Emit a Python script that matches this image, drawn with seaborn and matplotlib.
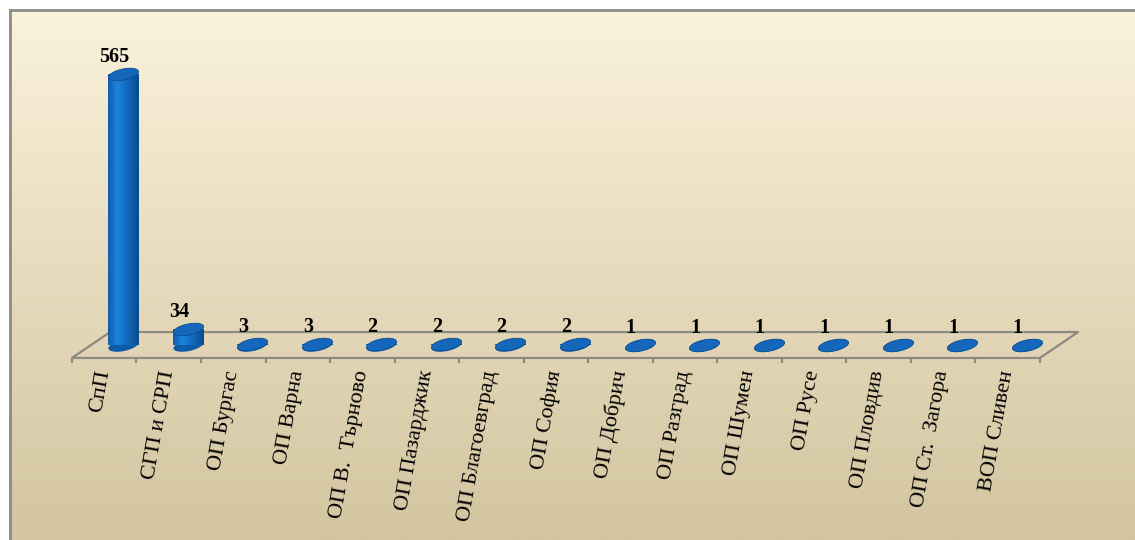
import numpy as np
import seaborn as sns
import matplotlib
matplotlib.use('Agg')
import matplotlib.pyplot as plt
from matplotlib.path import Path
from matplotlib.colors import LinearSegmentedColormap

categories = ['СпП', 'СГП и СРП', 'ОП Бургас', 'ОП Варна', 'ОП В.  Търново',
              'ОП Пазарджик', 'ОП Благоевград', 'ОП София', 'ОП Добрич',
              'ОП Разград', 'ОП Шумен', 'ОП Русе', 'ОП Пловдив',
              'ОП Ст.  Загора', 'ВОП Сливен']
values = [565, 34, 3, 3, 2, 2, 2, 2, 1, 1, 1, 1, 1, 1, 1]

sns.set_style('white')
plt.rcParams['font.family'] = ['Liberation Serif', 'DejaVu Serif']

W, H = 1135, 540
fig = plt.figure(figsize=(W / 100, H / 100), dpi=100)
fig.patch.set_facecolor('white')

# background panel with vertical gradient and grey frame on top/left
bg = fig.add_axes([10 / W, 0, 1 - 10 / W, 1 - 10 / H], zorder=-1)
grad = LinearSegmentedColormap.from_list('bg', ['#FBF2DC', '#E6DBBD', '#D3C5A0'])
bg.imshow(np.linspace(0, 1, 256).reshape(-1, 1), cmap=grad, aspect='auto',
          extent=[0, 1, 0, 1], origin='upper')
bg.set_xticks([])
bg.set_yticks([])
for side in ['right', 'bottom']:
    bg.spines[side].set_visible(False)
for side in ['left', 'top']:
    bg.spines[side].set_color('#8C8A86')
    bg.spines[side].set_linewidth(2)

# main axes: y=0 sits on the middle line of the floor
ax = fig.add_axes([91 / W, 175 / H, 968 / W, 325 / H])
ax.patch.set_alpha(0)
ymin, ymax = -41.7, 635.9
dx, dy = 0.295, 27.0   # depth of the 3D floor (category units / value units)

sns.barplot(x=categories, y=values, width=0.465, color='#1470C6',
            saturation=1, linewidth=0, ax=ax, zorder=3)

cyl = LinearSegmentedColormap.from_list(
    'cyl', [(0, '#0E5DAE'), (0.3, '#1F84E0'), (0.55, '#1470C6'), (1, '#0A498C')])
for p in ax.patches:
    x0, w = p.get_x(), p.get_width()
    h = p.get_height()
    im = ax.imshow(np.linspace(0, 1, 128).reshape(1, -1), cmap=cyl, aspect='auto',
                   extent=[x0, x0 + w, 0, h], zorder=3.1)
    im.set_clip_path(p)

# tilted ellipse marker for cylinder caps
t = np.linspace(0, 2 * np.pi, 80)
a = np.deg2rad(12)
ex, ey = np.cos(t), 0.36 * np.sin(t)
verts = np.column_stack([ex * np.cos(a) - ey * np.sin(a), ex * np.sin(a) + ey * np.cos(a)])
ell = Path(verts, closed=True)

xs = np.arange(len(categories))
ax.scatter(xs, np.zeros(len(xs)), marker=ell, s=470, color='#0D5CA8',
           linewidths=0, zorder=2.5)
ax.scatter(xs, values, marker=ell, s=470, color='#1467BA',
           edgecolors='#0B4E92', linewidths=0.6, zorder=4)

# floor
n = len(categories)
floor_x = [-0.5 - dx, n - 0.5 - dx, n - 0.5 + dx, -0.5 + dx, -0.5 - dx]
floor_y = [-dy, -dy, dy, dy, -dy]
ax.plot(floor_x, floor_y, color='#8E8A82', lw=1.6, zorder=1, clip_on=False)
ax.vlines(np.arange(n + 1) - 0.5 - dx, -dy - 10, -dy, color='#8E8A82', lw=1.6,
          zorder=1, clip_on=False)

for i, v in enumerate(values):
    ax.annotate(str(v), xy=(i, v), xytext=(-6.5, 8.5), textcoords='offset points',
                ha='center', va='baseline', fontsize=14.5, fontweight='bold',
                color='black', zorder=5)
    ax.annotate(categories[i], xy=(i - dx, -dy), xytext=(0, -9),
                textcoords='offset points', rotation=80, rotation_mode='anchor',
                ha='right', va='center', fontsize=16, color='black')

ax.set_xlim(-0.5, n - 0.5)
ax.set_ylim(ymin, ymax)
ax.set_axis_off()

fig.savefig('out.png', dpi=100, facecolor='white')
